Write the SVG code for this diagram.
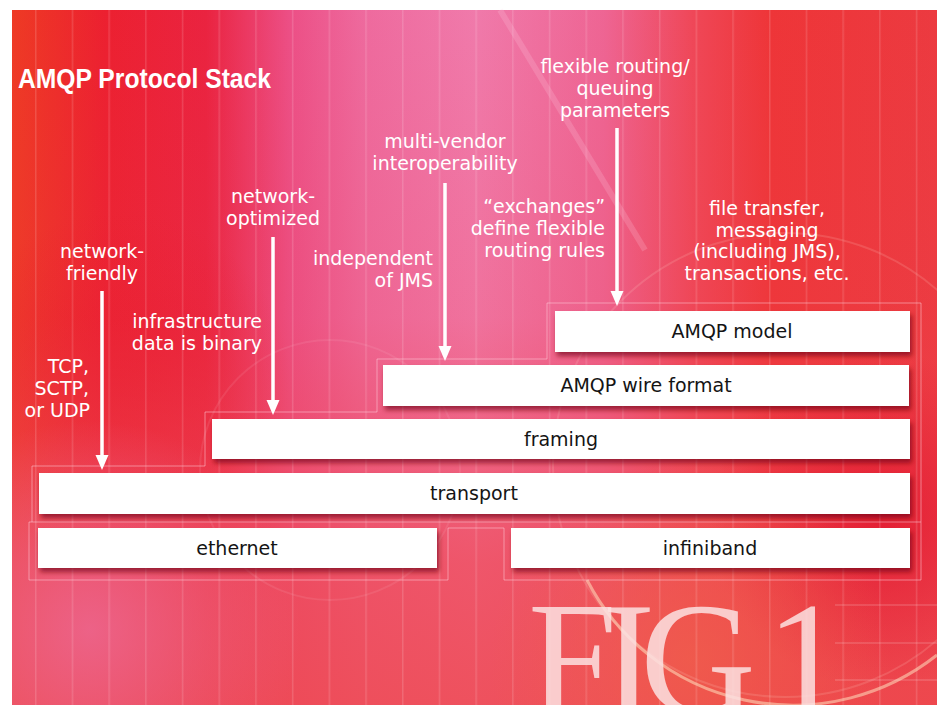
<svg xmlns="http://www.w3.org/2000/svg" width="937" height="705" viewBox="0 0 937 705">
<style>
.lbl{font-family:"DejaVu Sans","Verdana",sans-serif;font-size:19px;fill:#ffffff}
.box text{font-family:"DejaVu Sans","Verdana",sans-serif;font-size:19px;fill:#141414;text-anchor:middle}
.box rect{fill:#ffffff;filter:url(#sh)}
.c{text-anchor:middle}
.r{text-anchor:end}
.frame{fill:none;stroke:#ffd6e0;stroke-opacity:0.5;stroke-width:1}
.arrow{stroke:#ffffff;stroke-width:3.5;fill:none;marker-end:url(#ah)}
</style>
<defs>
<linearGradient id="bgH" x1="12" y1="0" x2="937" y2="0" gradientUnits="userSpaceOnUse">
<stop offset="0" stop-color="#ee3a24"/>
<stop offset="0.1" stop-color="#ec2030"/>
<stop offset="0.21" stop-color="#ea2340"/>
<stop offset="0.3" stop-color="#ec4f86"/>
<stop offset="0.38" stop-color="#ee6a9e"/>
<stop offset="0.5" stop-color="#f07aab"/>
<stop offset="0.64" stop-color="#ee6594"/>
<stop offset="0.74" stop-color="#ef4656"/>
<stop offset="0.82" stop-color="#ee3538"/>
<stop offset="1" stop-color="#ec3a40"/>
</linearGradient>
<linearGradient id="bgV" x1="0" y1="0" x2="0" y2="705" gradientUnits="userSpaceOnUse">
<stop offset="0" stop-color="#ee4450" stop-opacity="0"/>
<stop offset="0.45" stop-color="#ee4450" stop-opacity="0.15"/>
<stop offset="0.8" stop-color="#ee4a55" stop-opacity="0.75"/>
<stop offset="1" stop-color="#ee4a50" stop-opacity="0.85"/>
</linearGradient>
<radialGradient id="pinkBL" cx="90" cy="630" r="210" gradientUnits="userSpaceOnUse">
<stop offset="0" stop-color="#ec6a96" stop-opacity="0.8"/>
<stop offset="1" stop-color="#ec6a96" stop-opacity="0"/>
</radialGradient>
<radialGradient id="redL" cx="120" cy="380" r="170" gradientUnits="userSpaceOnUse">
<stop offset="0" stop-color="#e8182c" stop-opacity="0.6"/>
<stop offset="1" stop-color="#e8182c" stop-opacity="0"/>
</radialGradient>
<radialGradient id="redR" cx="880" cy="520" r="170" gradientUnits="userSpaceOnUse">
<stop offset="0" stop-color="#e0102a" stop-opacity="0.7"/>
<stop offset="1" stop-color="#e0102a" stop-opacity="0"/>
</radialGradient>
<radialGradient id="orgFig" cx="690" cy="660" r="200" gradientUnits="userSpaceOnUse">
<stop offset="0" stop-color="#f0604a" stop-opacity="0.7"/>
<stop offset="1" stop-color="#f0604a" stop-opacity="0"/>
</radialGradient>
<pattern id="vl" x="35" y="0" width="36.7" height="705" patternUnits="userSpaceOnUse">
<rect x="0" y="0" width="1.5" height="705" fill="#ffffff" fill-opacity="0.14"/>
</pattern>
<filter id="sh" x="-5%" y="-30%" width="110%" height="180%">
<feDropShadow dx="2" dy="4" stdDeviation="2.5" flood-color="#6e0010" flood-opacity="0.65"/>
</filter>
<marker id="ah" markerUnits="userSpaceOnUse" markerWidth="16" markerHeight="14" refX="1" refY="6.5" orient="auto">
<path d="M0,0 L15,6.5 L0,13 Z" fill="#ffffff"/>
</marker>
</defs>

<g id="background">
<rect x="12" y="10" width="925" height="695" fill="url(#bgH)"/>
<rect x="12" y="10" width="925" height="695" fill="url(#redL)"/>
<rect x="12" y="10" width="925" height="695" fill="url(#bgV)"/>
<rect x="12" y="10" width="925" height="695" fill="url(#pinkBL)"/>
<rect x="12" y="10" width="925" height="695" fill="url(#redR)"/>
<rect x="12" y="10" width="925" height="695" fill="url(#orgFig)"/>
<rect x="12" y="10" width="925" height="695" fill="url(#vl)"/>
<line x1="500" y1="10" x2="645" y2="250" stroke="#ffd0e4" stroke-opacity="0.2" stroke-width="6"/>
<circle cx="785" cy="465" r="232" fill="none" stroke="#ffd8d0" stroke-opacity="0.16" stroke-width="2"/>
<path d="M587,580 A232,232 0 0 0 937,655" fill="none" stroke="#ffe0c0" stroke-opacity="0.55" stroke-width="3"/>
<circle cx="330" cy="470" r="130" fill="none" stroke="#ffd8e0" stroke-opacity="0.1" stroke-width="2"/>
<g stroke="#ffffff" stroke-opacity="0.18" stroke-width="1.5">
<line x1="835" y1="605" x2="937" y2="605"/>
<line x1="835" y1="643" x2="937" y2="643"/>
<line x1="835" y1="680" x2="937" y2="680"/>
</g>
</g>

<g id="frames">
<path class="frame" d="M32,522 V466 H205 V412 H377 V359 H547 V303 H921 V580"/>
<path class="frame" d="M29,522 H921 M29,522 V580 H448 V528 H504 V580 H921"/>
</g>

<text id="title" x="18" y="88" font-family="'Liberation Sans Narrow','Liberation Sans',Arial,sans-serif" font-weight="bold" font-size="27" fill="#ffffff" textLength="253" lengthAdjust="spacingAndGlyphs">AMQP Protocol Stack</text>

<g id="fig-label">
<text x="528" y="713" font-family="'Liberation Serif','Times New Roman',serif" font-size="160" fill="#fbe2e2" fill-opacity="0.85" textLength="318">FIG 1</text>
</g>

<g id="node-amqp-model" class="box">
<rect x="555" y="311" width="355" height="41"/>
<text x="732" y="338">AMQP model</text>
</g>
<g id="node-amqp-wire-format" class="box">
<rect x="383" y="365" width="526" height="41"/>
<text x="646" y="392">AMQP wire format</text>
</g>
<g id="node-framing" class="box">
<rect x="212" y="419" width="698" height="40"/>
<text x="561" y="446">framing</text>
</g>
<g id="node-transport" class="box">
<rect x="39" y="473" width="871" height="41"/>
<text x="474" y="500">transport</text>
</g>
<g id="node-ethernet" class="box">
<rect x="38" y="528" width="399" height="40"/>
<text x="237" y="555">ethernet</text>
</g>
<g id="node-infiniband" class="box">
<rect x="511" y="528" width="399" height="40"/>
<text x="710" y="555">infiniband</text>
</g>

<g id="connectors">
<line class="arrow" x1="102" y1="291" x2="102" y2="456"/>
<line class="arrow" x1="273" y1="237" x2="273" y2="401"/>
<line class="arrow" x1="445" y1="183" x2="445" y2="347"/>
<line class="arrow" x1="617" y1="128" x2="617" y2="292"/>
</g>

<g id="labels">
<text class="lbl c" x="102" y="258">network-</text>
<text class="lbl c" x="102" y="280">friendly</text>
<text class="lbl r" x="89" y="373">TCP,</text>
<text class="lbl r" x="89" y="395">SCTP,</text>
<text class="lbl r" x="90" y="417">or UDP</text>
<text class="lbl c" x="273" y="203">network-</text>
<text class="lbl c" x="273" y="225">optimized</text>
<text class="lbl r" x="262" y="328">infrastructure</text>
<text class="lbl r" x="262" y="350">data is binary</text>
<text class="lbl c" x="445" y="148">multi-vendor</text>
<text class="lbl c" x="445" y="170">interoperability</text>
<text class="lbl r" x="433" y="265">independent</text>
<text class="lbl r" x="433" y="287">of JMS</text>
<text class="lbl c" x="615" y="73">flexible routing/</text>
<text class="lbl c" x="615" y="95">queuing</text>
<text class="lbl c" x="615" y="117">parameters</text>
<text class="lbl r" x="605" y="213">“exchanges”</text>
<text class="lbl r" x="605" y="235">define flexible</text>
<text class="lbl r" x="605" y="257">routing rules</text>
<text class="lbl c" x="767" y="215">file transfer,</text>
<text class="lbl c" x="767" y="237">messaging</text>
<text class="lbl c" x="767" y="258">(including JMS),</text>
<text class="lbl c" x="767" y="280">transactions, etc.</text>
</g>
</svg>
